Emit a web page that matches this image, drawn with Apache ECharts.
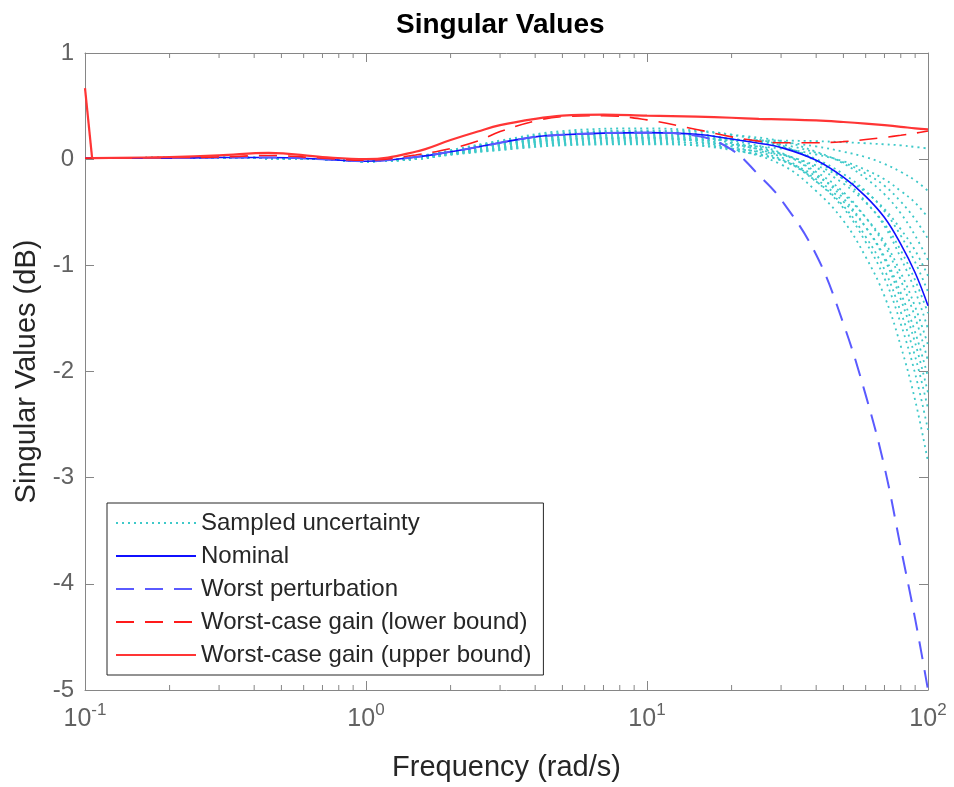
<!DOCTYPE html>
<html><head><meta charset="utf-8">
<script src="https://cdn.jsdelivr.net/npm/echarts@6/dist/echarts.min.js"></script>
<style>html,body{margin:0;padding:0;background:#fff}#c{width:954px;height:787px}</style>
</head><body><div id="c"></div>
<script>
// ---- data ----
const FREQ = [0.1, 0.106, 0.2, 0.3, 0.45, 0.7, 1, 1.5, 2, 2.5, 3, 4, 5, 7, 10, 15, 20, 25, 30, 40, 50, 60, 70, 80, 90, 100];
const NOMINAL = [0.01, 0.01, 0.01, 0.015, 0.015, 0.0, -0.02, 0.02, 0.07, 0.115, 0.155, 0.21, 0.23, 0.245, 0.25, 0.235, 0.19, 0.15, 0.11, -0.01, -0.17, -0.35, -0.55, -0.80, -1.07, -1.38];
const WORST_PERTURBATION = [0.01, 0.01, 0.01, 0.015, 0.015, 0.0, -0.02, 0.02, 0.07, 0.115, 0.155, 0.21, 0.23, 0.245, 0.25, 0.22, 0.09, -0.15, -0.38, -0.90, -1.55, -2.22, -2.90, -3.66, -4.33, -5.0];
const WC_LOWER = [0.01, 0.01, 0.015, 0.02, 0.035, 0.01, -0.01, 0.04, 0.10, 0.17, 0.26, 0.36, 0.40, 0.41, 0.37, 0.28, 0.21, 0.17, 0.155, 0.155, 0.165, 0.185, 0.205, 0.225, 0.245, 0.265];
const WC_UPPER = [0.67, 0.01, 0.02, 0.035, 0.06, 0.02, 0.0, 0.07, 0.18, 0.26, 0.32, 0.38, 0.41, 0.42, 0.41, 0.40, 0.39, 0.38, 0.375, 0.365, 0.35, 0.335, 0.32, 0.305, 0.29, 0.28];

const SAMPLE_FREQ = [0.1, 0.3, 0.7, 1, 1.5, 2, 3, 5, 10, 15, 20, 30, 40, 50, 60, 70, 80, 90, 100];
const SAMPLE_1  = [0.01, 0.01, 0.0, -0.02, 0.0, 0.05, 0.11, 0.165, 0.18, 0.18, 0.18, 0.175, 0.17, 0.16, 0.15, 0.14, 0.13, 0.115, 0.10];
const SAMPLE_2  = [0.01, 0.01, 0.0, -0.02, 0.01, 0.06, 0.12, 0.185, 0.20, 0.195, 0.185, 0.16, 0.12, 0.07, 0.02, -0.045, -0.12, -0.20, -0.30];
const SAMPLE_3  = [0.01, 0.01, 0.0, -0.02, 0.0, 0.045, 0.10, 0.15, 0.16, 0.154, 0.136, 0.10, 0.044, -0.02, -0.10, -0.19, -0.30, -0.41, -0.55];
const SAMPLE_4  = [0.01, 0.01, 0.0, -0.02, 0.015, 0.065, 0.135, 0.205, 0.22, 0.21, 0.19, 0.14, 0.06, -0.03, -0.135, -0.25, -0.40, -0.565, -0.75];
const SAMPLE_5  = [0.01, 0.015, 0.0, -0.02, 0.02, 0.08, 0.165, 0.25, 0.27, 0.26, 0.23, 0.17, 0.07, -0.04, -0.18, -0.33, -0.51, -0.72, -0.95];
const SAMPLE_6  = [0.01, 0.01, 0.0, -0.02, 0.0, 0.04, 0.085, 0.13, 0.14, 0.13, 0.10, 0.04, -0.06, -0.18, -0.31, -0.47, -0.66, -0.86, -1.10];
const SAMPLE_7  = [0.01, 0.01, 0.0, -0.02, 0.02, 0.07, 0.145, 0.22, 0.24, 0.23, 0.19, 0.12, 0.0, -0.14, -0.30, -0.49, -0.72, -0.97, -1.25];
const SAMPLE_8  = [0.01, 0.01, 0.0, -0.02, 0.01, 0.055, 0.115, 0.175, 0.19, 0.18, 0.135, 0.05, -0.08, -0.23, -0.41, -0.61, -0.86, -1.14, -1.45];
const SAMPLE_9  = [0.01, 0.015, 0.0, -0.02, 0.025, 0.085, 0.175, 0.265, 0.29, 0.27, 0.23, 0.13, -0.02, -0.19, -0.40, -0.63, -0.93, -1.24, -1.60];
const SAMPLE_10 = [0.01, 0.01, 0.0, -0.02, 0.0, 0.045, 0.09, 0.14, 0.15, 0.13, 0.085, -0.01, -0.16, -0.33, -0.55, -0.78, -1.07, -1.39, -1.75];
const SAMPLE_11 = [0.01, 0.01, 0.0, -0.02, 0.015, 0.07, 0.14, 0.21, 0.23, 0.21, 0.16, 0.05, -0.12, -0.31, -0.55, -0.81, -1.14, -1.49, -1.90];
const SAMPLE_12 = [0.01, 0.01, 0.0, -0.02, 0.005, 0.05, 0.105, 0.155, 0.17, 0.15, 0.095, -0.01, -0.19, -0.40, -0.64, -0.92, -1.26, -1.63, -2.05];
const SAMPLE_13 = [0.01, 0.015, 0.0, -0.02, 0.02, 0.075, 0.16, 0.24, 0.26, 0.24, 0.18, 0.06, -0.14, -0.37, -0.64, -0.94, -1.32, -1.73, -2.20];
const SAMPLE_14 = [0.01, 0.01, 0.0, -0.02, 0.01, 0.06, 0.13, 0.195, 0.21, 0.19, 0.12, 0.0, -0.21, -0.44, -0.73, -1.04, -1.44, -1.86, -2.35];
const SAMPLE_15 = [0.01, 0.015, 0.0, -0.02, 0.02, 0.075, 0.155, 0.23, 0.25, 0.22, 0.15, 0.02, -0.21, -0.46, -0.78, -1.12, -1.55, -2.02, -2.55];
const SAMPLE_16 = [0.01, 0.01, 0.0, -0.02, 0.01, 0.06, 0.12, 0.185, 0.20, 0.17, 0.10, -0.05, -0.30, -0.58, -0.92, -1.29, -1.76, -2.27, -2.85];
const SAMPLES = [SAMPLE_1, SAMPLE_2, SAMPLE_3, SAMPLE_4, SAMPLE_5, SAMPLE_6, SAMPLE_7, SAMPLE_8,
                 SAMPLE_9, SAMPLE_10, SAMPLE_11, SAMPLE_12, SAMPLE_13, SAMPLE_14, SAMPLE_15, SAMPLE_16];

const X_MIN = 0.1, X_MAX = 100, Y_MIN = -5, Y_MAX = 1, Y_STEP = 1;
const MINOR_TICKS = [0.2, 0.3, 0.4, 0.5, 0.6, 0.7, 0.8, 0.9, 2, 3, 4, 5, 6, 7, 8, 9, 20, 30, 40, 50, 60, 70, 80, 90];

const TITLE = 'Singular Values';
const X_NAME = 'Frequency (rad/s)';
const Y_NAME = 'Singular Values (dB)';
const NAME_SAMPLED = 'Sampled uncertainty';
const NAME_NOMINAL = 'Nominal';
const NAME_WP = 'Worst perturbation';
const NAME_LB = 'Worst-case gain (lower bound)';
const NAME_UB = 'Worst-case gain (upper bound)';

// ---- chart ----
const FONT = '"Liberation Sans", Arial, Helvetica, sans-serif';
const AXIS_COLOR = '#868686';
const LABEL_COLOR = '#626262';
const TEXT_DARK = '#262626';
const pair = (xs, ys) => xs.map((x, i) => [x, ys[i]]);

const chart = echarts.init(document.getElementById('c'), null, {renderer: 'canvas'});

const lineSeries = (name, data, color, width, type, z, smooth) => ({
  name, type: 'line', data, symbol: 'none', showSymbol: false, smooth,
  lineStyle: {color, width, type}, itemStyle: {color, opacity: 0}, z, silent: true
});

const series = [];
SAMPLES.forEach(s => series.push(lineSeries(NAME_SAMPLED, pair(SAMPLE_FREQ, s), '#3ec9c9', 1.8, [2, 4], 2, 0.4)));
series.push(lineSeries(NAME_NOMINAL, pair(FREQ, NOMINAL), '#1010ff', 1.6, 'solid', 3, 0.4));
series.push(lineSeries(NAME_WP, pair(FREQ, WORST_PERTURBATION), '#5a5aff', 2, [18, 11], 4, 0.4));
series.push(lineSeries(NAME_LB, pair(FREQ, WC_LOWER), '#ff1a1a', 1.6, [18, 11], 5, 0.4));
// upper bound: the initial jump is straight, the rest smoothed
const ub = pair(FREQ, WC_UPPER);
series.push(lineSeries(NAME_UB, ub.slice(0, 2), '#ff3535', 2.2, 'solid', 6, false));
series.push(lineSeries(NAME_UB, ub.slice(1), '#ff3535', 2.2, 'solid', 6, 0.4));
// minor ticks of the log axis (bottom and top), placed through the axis scale
series.push({
  type: 'custom', data: MINOR_TICKS.map(v => [v]), silent: true, z: 10, clip: false,
  encode: {x: 0},
  renderItem: (params, api) => {
    const v = api.value(0);
    const pb = api.coord([v, Y_MIN]);
    const pt = api.coord([v, Y_MAX]);
    const st = {stroke: AXIS_COLOR, lineWidth: 1};
    return {type: 'group', children: [
      {type: 'line', shape: {x1: pb[0], y1: pb[1], x2: pb[0], y2: pb[1] - 5}, style: st},
      {type: 'line', shape: {x1: pt[0], y1: pt[1], x2: pt[0], y2: pt[1] + 5}, style: st}
    ]};
  }
});

const supLabel = v => '{b|10}{s|' + Math.round(Math.log10(v)) + '}';

chart.setOption({
  animation: false,
  backgroundColor: '#ffffff',
  textStyle: {fontFamily: FONT},
  title: {
    text: TITLE, left: 391, top: 6,
    textStyle: {fontFamily: FONT, fontSize: 28, fontWeight: 'bold', color: '#000'}
  },
  grid: {left: 85, right: 26, top: 53, bottom: 91, containLabel: false},
  legend: {
    data: [NAME_SAMPLED, NAME_NOMINAL, NAME_WP, NAME_LB, NAME_UB],
    orient: 'vertical', left: 107, top: 503,
    padding: [8, 12, 8, 8], itemGap: 9, itemWidth: 80, itemHeight: 14,
    borderColor: TEXT_DARK, borderWidth: 1, backgroundColor: '#fff',
    itemStyle: {opacity: 0},
    textStyle: {fontFamily: FONT, fontSize: 24, color: TEXT_DARK, lineHeight: 24},
    selectedMode: false
  },
  xAxis: [{
    type: 'log', logBase: 10, min: X_MIN, max: X_MAX, position: 'bottom',
    name: X_NAME, nameLocation: 'middle', nameGap: 63,
    nameTextStyle: {fontFamily: FONT, fontSize: 29, color: TEXT_DARK},
    axisLine: {show: true, onZero: false, lineStyle: {color: AXIS_COLOR, width: 1}},
    axisTick: {show: true, inside: true, length: 9, lineStyle: {color: AXIS_COLOR}},
    splitLine: {show: false}, minorTick: {show: false},
    axisLabel: {
      margin: 12, formatter: supLabel,
      rich: {
        b: {fontFamily: FONT, fontSize: 25, color: LABEL_COLOR, verticalAlign: 'bottom'},
        s: {fontFamily: FONT, fontSize: 17, color: LABEL_COLOR, verticalAlign: 'bottom', padding: [0, 0, 13, 0]}
      }
    }
  }, {
    type: 'log', logBase: 10, min: X_MIN, max: X_MAX, position: 'top',
    axisLine: {show: true, onZero: false, lineStyle: {color: AXIS_COLOR, width: 1}},
    axisTick: {show: true, inside: true, length: 9, lineStyle: {color: AXIS_COLOR}},
    axisLabel: {show: false}, splitLine: {show: false}
  }],
  yAxis: [{
    type: 'value', min: Y_MIN, max: Y_MAX, interval: Y_STEP, position: 'left',
    name: Y_NAME, nameLocation: 'middle', nameGap: 44, nameRotate: 90,
    nameTextStyle: {fontFamily: FONT, fontSize: 29, color: TEXT_DARK},
    axisLine: {show: true, onZero: false, lineStyle: {color: AXIS_COLOR, width: 1}},
    axisTick: {show: true, inside: true, length: 9, lineStyle: {color: AXIS_COLOR}},
    splitLine: {show: false},
    axisLabel: {margin: 11, fontFamily: FONT, fontSize: 24, color: LABEL_COLOR}
  }, {
    type: 'value', min: Y_MIN, max: Y_MAX, interval: Y_STEP, position: 'right',
    axisLine: {show: true, onZero: false, lineStyle: {color: AXIS_COLOR, width: 1}},
    axisTick: {show: true, inside: true, length: 9, lineStyle: {color: AXIS_COLOR}},
    axisLabel: {show: false}, splitLine: {show: false}
  }],
  series: series
});
</script>
</body></html>
